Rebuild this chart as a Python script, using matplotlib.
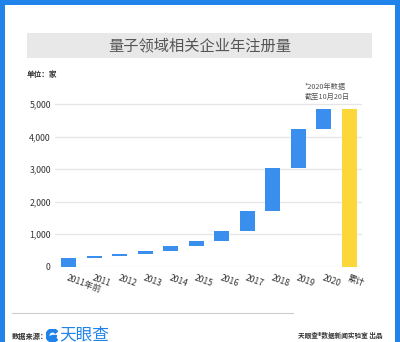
import numpy as np
import matplotlib
matplotlib.use("Agg")
import matplotlib.pyplot as plt
from matplotlib.patches import Rectangle, Wedge

plt.rcParams['font.family'] = ['Noto Sans CJK SC', 'DejaVu Sans']

years = ["2011年前", "2011", "2012", "2013", "2014", "2015", "2016",
         "2017", "2018", "2019", "2020"]
new_companies = [260, 60, 60, 90, 150, 160, 310, 620, 1310, 1200, 620]
total_label = "累计"
y_ticks = [0, 1000, 2000, 3000, 4000, 5000]

blue = "#3a8fee"
yellow = "#fdd63a"
frame_blue = "#1f83ea"

fig = plt.figure(figsize=(4, 3.42), dpi=100)

# blue frame
fig.add_artist(Rectangle((0, 0), 5 / 400, 1, transform=fig.transFigure, color=frame_blue, lw=0))
fig.add_artist(Rectangle((395 / 400, 0), 5 / 400, 1, transform=fig.transFigure, color=frame_blue, lw=0))
fig.add_artist(Rectangle((0, 1 - 5 / 342), 1, 5 / 342, transform=fig.transFigure, color=frame_blue, lw=0))

# title box
fig.add_artist(Rectangle((27 / 400, 1 - 58 / 342), 345 / 400, 25 / 342,
                         transform=fig.transFigure, color="#e8e8e8", lw=0))
fig.text(200 / 400, 1 - 46 / 342, "量子领域相关企业年注册量", fontsize=11,
         color="#555555", ha="center", va="center")
fig.text(27 / 400, 1 - 75 / 342, "单位：家", fontsize=5.5, fontweight="bold",
         color="#333333", ha="left", va="center")
fig.text(305 / 400, 1 - 92 / 342, "*2020年数据\n截至10月20日", fontsize=5.2,
         color="#555555", ha="left", va="center", linespacing=1.25)

ax = fig.add_axes([55 / 400, 75.5 / 342, 307 / 400, 164.1 / 342])
ax.set_zorder(2)
ax.patch.set_alpha(0)

vals = np.array(new_companies)
tops = np.cumsum(vals)
bottoms = tops - vals
x = np.arange(len(years))
ax.bar(x, vals, bottom=bottoms, width=0.59, color=blue, zorder=3)
ax.bar(len(years), tops[-1], width=0.59, color=yellow, zorder=3)

ax.set_xlim(-0.53, len(years) + 0.5)
ax.set_ylim(0, 5050)
ax.set_yticks(y_ticks)
ax.set_yticklabels([f"{v:,}" for v in y_ticks], fontsize=6.3, color="#333333")
ax.yaxis.grid(True, color="#e6e6e6", lw=0.9, zorder=0)
ax.set_axisbelow(True)
ax.set_xticks(np.arange(len(years) + 1))
ax.set_xticklabels(years + [total_label], fontsize=6.2, color="#333333",
                   rotation=-20, ha="left", rotation_mode="anchor")
ax.tick_params(length=0)
ax.tick_params(axis="y", pad=3)
ax.tick_params(axis="x", pad=5)
for s in ax.spines.values():
    s.set_visible(False)

# footer
fig.add_artist(plt.Line2D([12 / 400, 293 / 400], [1 - 313 / 342, 1 - 313 / 342],
                          transform=fig.transFigure, color="#cccccc", lw=0.8))
fig.text(12 / 400, 1 - 336 / 342, "数据来源：", fontsize=5.2, fontweight="bold",
         color="#333333", ha="left", va="center")
logo = fig.add_axes([46 / 400, 1 - 342 / 342, 13 / 400, 13 / 342])
logo.set_aspect("equal")
logo.add_patch(Wedge((0.5, 0.5), 0.5, 40, 320, width=0.22, color=frame_blue))
logo.add_patch(Wedge((0.5, 0.5), 0.3, 200, 360, color=frame_blue))
logo.set_xlim(0, 1)
logo.set_ylim(0, 1)
logo.axis("off")
fig.text(59 / 400, 1 - 335 / 342, "天眼查", fontsize=12, color=frame_blue,
         ha="left", va="center")
fig.text(383 / 400, 1 - 335.5 / 342, "天眼查®数据新闻实验室 出品", fontsize=4.8,
         fontweight="bold", color="#333333", ha="right", va="center")

fig.savefig("out.png", dpi=100)
